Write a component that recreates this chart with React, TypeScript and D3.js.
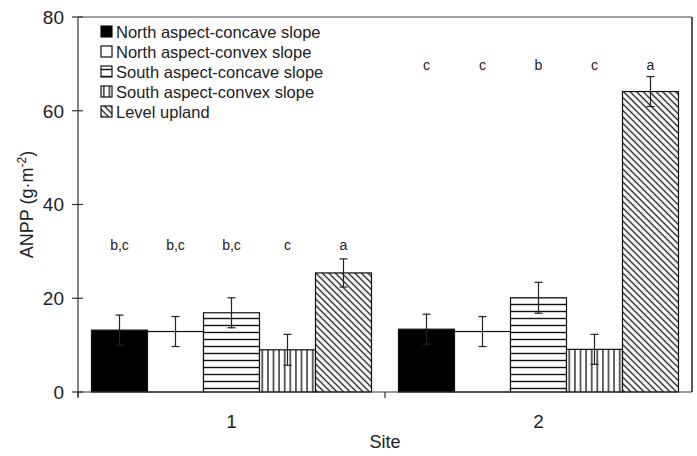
import React from 'react';
import * as d3 from 'd3';

const sites = ['1', '2'];
const treatments = [
  'North aspect-concave slope',
  'North aspect-convex slope',
  'South aspect-concave slope',
  'South aspect-convex slope',
  'Level upland',
];
const patternIds = ['solid', 'empty', 'hlines', 'vlines', 'diag'];

// ANPP means per site (rows) and treatment (columns)
const means = [
  [13.2, 12.9, 16.9, 9.0, 25.4],
  [13.4, 12.9, 20.1, 9.1, 64.1],
];
const errors = [
  [3.2, 3.2, 3.2, 3.3, 3.0],
  [3.2, 3.2, 3.3, 3.2, 3.2],
];
const letters = [
  ['b,c', 'b,c', 'b,c', 'c', 'a'],
  ['c', 'c', 'b', 'c', 'a'],
];
const letterLevel = [30.3, 68.7];
const yTicks = [0, 20, 40, 60, 80];

const width = 697;
const height = 456;
const margin = { left: 78, right: 5, top: 17, bottom: 64 };
const font = 'Liberation Sans, Arial, sans-serif';

export default function App() {
  const x = d3.scaleBand<string>()
    .domain(sites)
    .range([margin.left, width - margin.right])
    .paddingInner(0.088)
    .paddingOuter(0.044);
  const inner = d3.scaleBand<number>()
    .domain(d3.range(treatments.length))
    .range([0, x.bandwidth()]);
  const y = d3.scaleLinear().domain([0, 80]).range([height - margin.bottom, margin.top]);

  const x0 = margin.left;
  const x1 = width - margin.right;
  const y0 = y(0);
  const yTop = y(80);

  const fillFor = (i: number) => {
    if (i === 0) return '#000';
    if (i === 1) return '#fff';
    return `url(#${patternIds[i]})`;
  };

  return (
    <svg width={width} height={height} style={{ position: 'absolute', left: 0, top: 0, background: '#fff' }}
      fontFamily={font}>
      <defs>
        <pattern id="hlines" patternUnits="userSpaceOnUse" width="8" height="7">
          <rect width="8" height="7" fill="#fff" />
          <line x1="0" x2="8" y1="3.5" y2="3.5" stroke="#111" strokeWidth="1.4" />
        </pattern>
        <pattern id="vlines" patternUnits="userSpaceOnUse" width="5.6" height="8">
          <rect width="5.6" height="8" fill="#fff" />
          <line x1="2.8" x2="2.8" y1="0" y2="8" stroke="#111" strokeWidth="1.3" />
        </pattern>
        <pattern id="diag" patternUnits="userSpaceOnUse" width="4.6" height="4.6" patternTransform="rotate(45)">
          <rect width="4.6" height="4.6" fill="#fff" />
          <line x1="0" x2="4.6" y1="2.3" y2="2.3" stroke="#111" strokeWidth="1.3" />
        </pattern>
      </defs>

      {/* frame */}
      <line x1={x0} x2={x1} y1={yTop} y2={yTop} stroke="#444" strokeWidth={1.2} />
      <line x1={x1} x2={x1} y1={yTop} y2={y0} stroke="#222" strokeWidth={1.5} />

      {/* bars */}
      {sites.map((s, si) => (
        <g key={s} transform={`translate(${x(s)},0)`}>
          {means[si].map((v, i) => (
            <rect key={i} x={inner(i)} y={y(v)} width={inner.bandwidth()} height={y0 - y(v)}
              fill={fillFor(i)} stroke="#111" strokeWidth={1.2} />
          ))}
          {means[si].map((v, i) => {
            const cx = (inner(i) as number) + inner.bandwidth() / 2;
            return (
              <g key={'e' + i} stroke="#222" strokeWidth={1.2}>
                <line x1={cx} x2={cx} y1={y(v + errors[si][i])} y2={y(v - errors[si][i])} />
                <line x1={cx - 4} x2={cx + 4} y1={y(v + errors[si][i])} y2={y(v + errors[si][i])} />
                <line x1={cx - 4} x2={cx + 4} y1={y(v - errors[si][i])} y2={y(v - errors[si][i])} />
              </g>
            );
          })}
          {letters[si].map((t, i) => (
            <text key={'l' + i} x={(inner(i) as number) + inner.bandwidth() / 2} y={y(letterLevel[si])}
              textAnchor="middle" fontSize={14} fill="#222">{t}</text>
          ))}
        </g>
      ))}

      {/* y axis */}
      <line x1={x0} x2={x0} y1={yTop} y2={y0 + 5} stroke="#333" strokeWidth={1.2} />
      {yTicks.map(t => (
        <g key={t}>
          <line x1={x0 - 6} x2={x0 + 5} y1={y(t)} y2={y(t)} stroke="#333" strokeWidth={1.2} />
          <text x={x0 - 14} y={y(t)} dy="0.36em" textAnchor="end" fontSize={19} fill="#222">{t}</text>
        </g>
      ))}
      <text transform={`translate(33,${(y0 + yTop) / 2}) rotate(-90)`} textAnchor="middle" fontSize={18} fill="#222">
        ANPP (g·m<tspan dy="-7" fontSize={12}>-2</tspan><tspan dy="7">)</tspan>
      </text>

      {/* x axis */}
      <line x1={x0} x2={x1} y1={y0} y2={y0} stroke="#333" strokeWidth={1.2} />
      {[x0, (x0 + x1) / 2].map((p, i) => (
        <line key={i} x1={p} x2={p} y1={y0} y2={y0 + 6} stroke="#333" strokeWidth={1.2} />
      ))}
      {sites.map(s => (
        <text key={s} x={(x(s) as number) + x.bandwidth() / 2} y={y0 + 36} textAnchor="middle" fontSize={19} fill="#222">{s}</text>
      ))}
      <text x={(x0 + x1) / 2} y={y0 + 56} textAnchor="middle" fontSize={18} fill="#222">Site</text>

      {/* legend */}
      {treatments.map((t, i) => (
        <g key={t} transform={`translate(101,${26 + i * 20})`}>
          <rect x={0} y={0} width={11} height={11} fill={fillFor(i)} stroke="#111" strokeWidth={1.2} />
          <text x={15} y={6} dy="0.36em" fontSize={16.5} fill="#222">{t}</text>
        </g>
      ))}
    </svg>
  );
}
